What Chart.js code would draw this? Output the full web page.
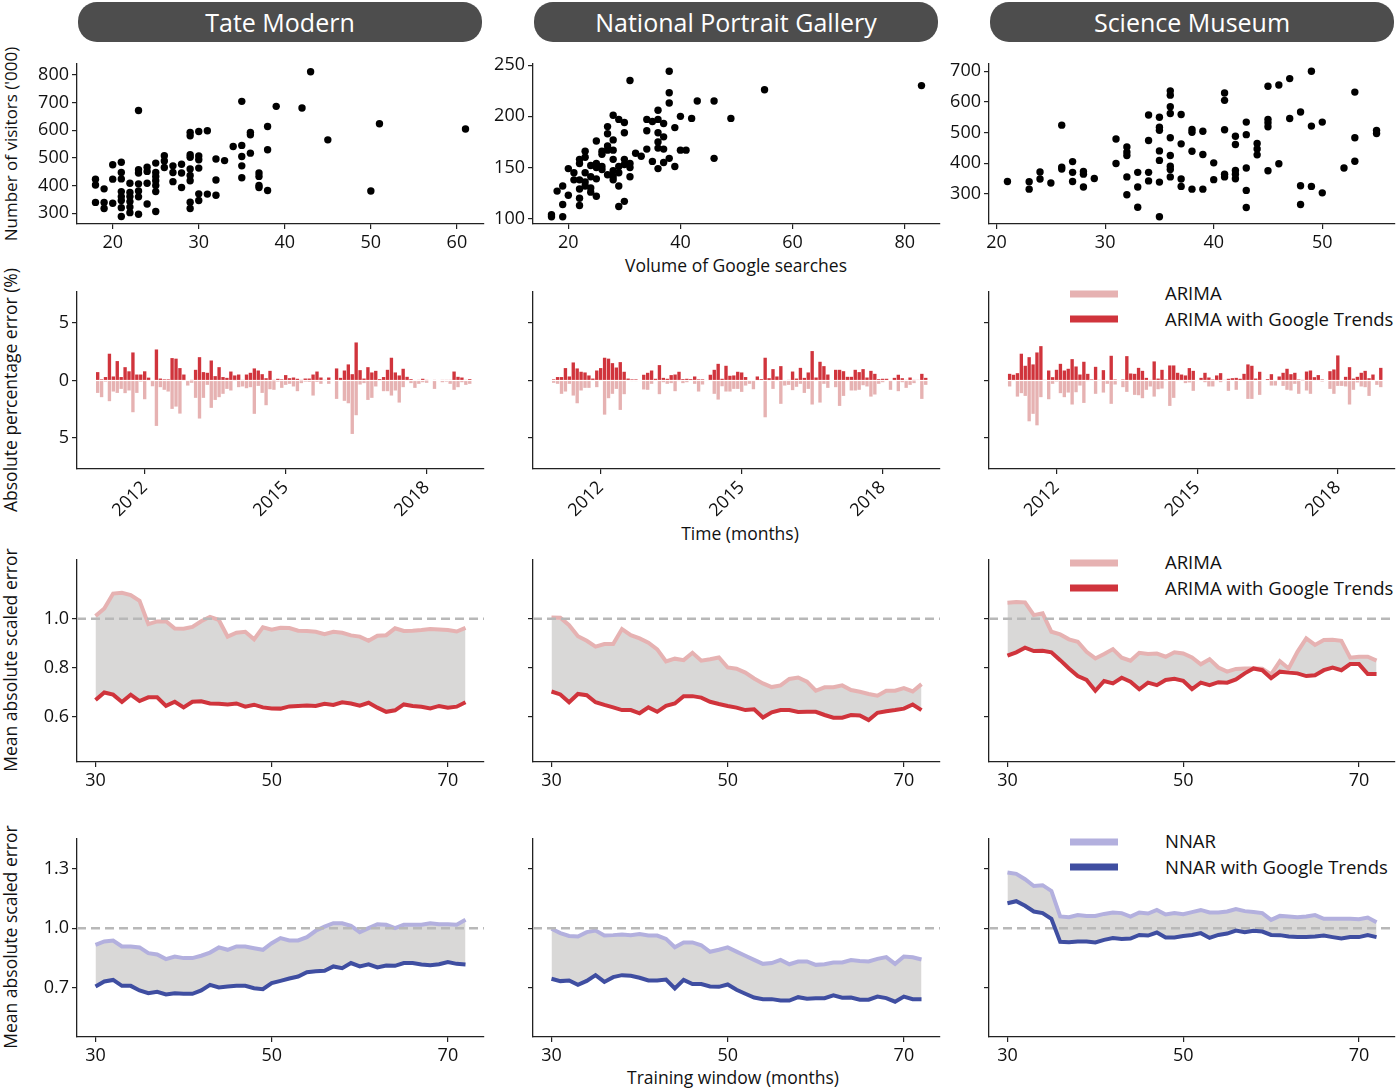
<!DOCTYPE html>
<html lang="en">
<head>
<meta charset="UTF-8">
<title>Museum visitors and Google searches</title>
<script src="https://cdn.jsdelivr.net/npm/chart.js"></script>
<style>
    body { margin: 0; background: #fff; font-family: 'Open Sans', sans-serif; }
    #page { position: relative; width: 1396px; height: 1089px; overflow: hidden; }
    canvas { position: absolute; }
    .pill {
        position: absolute; top: 2px; width: 404px; height: 40px;
        border-radius: 19px; background: #4d4d4d; color: #fff;
        font-size: 25px; line-height: 40px; text-align: center;
    }
    .ylab, .xlab, .legtxt { position: absolute; white-space: nowrap; color: #111; font-size: 17.5px; }
    .ylab { transform: translate(-50%, -50%) rotate(-90deg); }
    .xlab { transform: translate(-50%, -50%); }
    .legtxt { font-size: 18.5px; transform: translateY(-50%); left: 1165px; }
    .swatch { position: absolute; left: 1070px; width: 48px; height: 7px; transform: translateY(-50%); }
</style>
</head>
<body>
<div id="page">
    <div class="pill" style="left:78px">Tate Modern</div>
    <div class="pill" style="left:534px">National Portrait Gallery</div>
    <div class="pill" style="left:990px">Science Museum</div>

    <div class="ylab" style="left:10px; top:144px; font-size:17px">Number of visitors ('000)</div>
    <div class="ylab" style="left:10px; top:390px">Absolute percentage error (%)</div>
    <div class="ylab" style="left:10px; top:660px">Mean absolute scaled error</div>
    <div class="ylab" style="left:10px; top:937px">Mean absolute scaled error</div>

    <div class="xlab" style="left:736px; top:265px">Volume of Google searches</div>
    <div class="xlab" style="left:740px; top:533px">Time (months)</div>
    <div class="xlab" style="left:733px; top:1077px">Training window (months)</div>

    <div class="swatch" style="top:294px; background:#e6b2b2"></div>
    <div class="swatch" style="top:319px; background:#d0343c"></div>
    <div class="legtxt" style="top:292px">ARIMA</div>
    <div class="legtxt" style="top:318px">ARIMA with Google Trends</div>

    <div class="swatch" style="top:563px; background:#e6b2b2"></div>
    <div class="swatch" style="top:588px; background:#d0343c"></div>
    <div class="legtxt" style="top:561px">ARIMA</div>
    <div class="legtxt" style="top:587px">ARIMA with Google Trends</div>

    <div class="swatch" style="top:842px; background:#b3b0de"></div>
    <div class="swatch" style="top:867px; background:#3f4ea1"></div>
    <div class="legtxt" style="top:840px">NNAR</div>
    <div class="legtxt" style="top:866px">NNAR with Google Trends</div>
</div>
<script>
// ---- scatter: monthly search volume vs visitors ('000) ----
const tateSearch = [18,18,18,19,19,19,20,20,20,21,21,21,21,21,21,21,21,22,22,22,22,22,22,
    23,23,23,23,23,23,23,24,24,24,24,25,25,25,25,25,25,25,26,26,26,27,27,27,28,28,28,
    29,29,29,29,29,29,29,29,29,30,30,30,30,30,30,31,31,32,32,32,33,34,35,35,35,35,35,
    36,36,36,37,37,37,37,38,38,38,39,42,43,45,50,51,61];
const tateVisitors = [423,402,339,388,339,317,475,423,336,484,447,424,378,360,346,320,288,408,375,360,342,322,302,
    671,457,445,406,380,359,296,466,451,408,333,481,447,433,417,400,378,306,508,489,465,471,447,414,477,445,393,
    592,580,511,502,460,436,417,340,317,595,507,493,463,370,346,598,369,496,420,365,490,541,704,545,505,471,428,
    592,583,517,445,433,400,393,613,529,382,686,680,811,565,380,623,604];

const npgSearch = [17,17,18,19,19,19,20,20,21,21,22,22,22,22,22,22,23,23,23,23,23,24,24,24,24,
    25,25,25,25,25,26,26,26,26,27,27,27,27,27,28,28,28,28,28,28,28,29,29,29,29,29,
    30,30,30,30,30,31,31,31,31,32,33,34,34,34,35,35,36,36,36,36,36,36,37,37,37,37,
    38,38,38,38,39,39,40,40,41,42,43,46,46,49,55,83];
const npgVisitors = [104,102,127,132,114,102,149,123,145,138,158,154,138,129,120,113,166,160,145,136,132,152,141,130,126,
    176,154,150,139,122,166,163,151,148,190,183,171,167,143,201,177,167,158,147,141,138,197,151,145,132,112,
    194,184,158,153,117,235,154,150,141,164,161,197,186,168,195,156,206,197,184,175,169,149,193,180,168,155,
    244,223,213,159,189,151,200,167,167,198,215,215,159,198,226,230];

const smSearch = [21,23,23,24,24,25,26,26,26,27,27,27,28,28,28,29,31,31,32,32,32,32,32,33,33,33,
    34,34,34,34,35,35,35,35,35,35,35,36,36,36,36,36,36,36,36,36,37,37,37,37,38,38,38,38,
    39,39,39,40,40,41,41,41,41,41,42,42,42,42,42,43,43,43,43,43,44,44,44,45,45,45,45,45,
    46,46,47,47,48,48,48,49,49,49,50,50,52,53,53,53,55,55];
const smVisitors = [340,339,315,371,348,335,524,387,381,405,370,340,373,364,322,350,479,399,453,436,425,355,297,370,322,256,
    557,474,370,342,550,517,507,440,409,338,225,636,622,584,562,483,425,390,379,355,559,463,348,324,510,501,439,315,
    504,428,315,401,346,629,605,509,364,355,488,461,376,364,349,534,493,384,311,255,464,446,427,651,543,532,519,375,
    655,398,676,546,567,326,265,700,521,324,534,303,384,632,483,406,507,497];

// ---- absolute percentage error (%), Jan 2011 - Dec 2018 ----
const months = [];
for (let y = 2011; y <= 2018; y++) for (let m = 0; m < 12; m++) months.push(y + m / 12);

const tateApeTrends = [0.73,0.1,0.3,2.33,0.35,1.69,0.3,1.16,0.8,2.44, 0.52,0.52,0.8,0.25,0,2.7,0.17,0.1,0.1,1.95,
    1.9,1.08,0.52,0.05,0.03,0.93,2.03,0.73,0.67,1.74, 0.38,1.16,0.3,0.23,0.78,0.44,0.52,0.06,0.52,0.67,
    1.05,0.87,0.55,0.2,0.84,0.03,0.15,0.1,0.47,0.2, 0.26,0.15,0.03,0.17,0.17,0.52,0.78,0.26,0.06,0.26,
    0,1.05,0.23,0.87,1.4,0.55,3.31,0.9,0.17,1.16, 0.7,0.84,0.12,0.3,0.93,1.98,0.7,0.44,1.02,0.32,
    0.12,0,0.06,0.15,0.03,0,0.06,0,0.06,0.06, 0.06,0.78,0.32,0.26,0.06,0.12];
const tateApeArima = [1.08,1.45,0.1,1.8,0.96,1.08,0.73,1.1,0.87,2.76, 1.08,0.1,1.63,0,0.5,3.95,0.58,0.81,0.96,2.47,
    2.27,2.88,0,0.44,0.2,1.51,3.31,1.51,0.38,2.38, 1.69,1.45,1.16,0.73,0.87,0,0.58,0.52,0.67,0.58,
    2.9,0.47,1.08,2.15,0.76,0.81,0.1,0.64,0.38,0.29, 0.52,0.93,0.23,0.1,0.12,1.31,0.12,0.29,0,0.29,
    0,1.6,0,1.77,1.98,4.65,3.02,0.35,0.23,1.69, 1.51,0.52,0,0.93,0.93,1.31,0.87,1.92,0.58,0,
    0.23,0.64,0.29,0.15,0.2,0,0.73,0,0.15,0.1, 0.29,0.81,0.58,0.15,0.38,0.29];

const npgApeTrends = [0.1,0.3,0.3,1.08,0.35,1.57,1.05,0.76,0.7,0.44, 0.17,0.87,1.08,1.98,1.9,1.51,1.13,1.6,0.76,0.17,
    0.1,0.1,0,0.5,0.67,0.87,0.15,1.34,0.23,0.15, 0.47,0.52,0.76,0.12,0.15,0.12,0.35,0.1,0.1,0,
    0.5,0.93,1.45,0.15,1.28,0.41,0.44,0.76,0.7,0.3, 0,0,0.35,0.12,1.98,0.2,0.99,0.35,1.25,0,
    0.06,0.78,0.17,1.1,0.23,0.7,2.56,0.26,1.63,1.25, 0.52,0,0.93,0.93,0.81,0.32,0.32,0.93,0.73,0.99,
    0.26,0.84,0.58,0.12,0.15,0.15,0,0.23,0.5,0.2, 0.06,0.26,0.03,0.06,0.58,0.23];
const npgApeArima = [0.2,0.29,1.16,0.96,0.29,1.31,1.98,0.87,0.64,0.64, 0,0.58,0,2.97,1.54,1.16,0.73,2.56,1.19,0,
    0.06,0.06,0,0.78,0.81,0.29,0,1.19,0.15,0.29, 0.23,0.93,0.06,0.23,0.15,0,0.29,0.96,0.35,0,
    0,1.16,1.66,0.5,0.96,0.96,0.73,0.73,0.99,0.44, 0.29,0.76,0,0,3.2,0,0.73,0,2.03,0.44,
    0.38,0.84,0.55,0.29,1.08,0.73,2.09,0,1.92,0.29, 0.64,0,0.58,2.21,1.34,0.06,0.87,0.87,0.81,0.41,
    0.52,1.4,1.22,0.29,0.15,0,0.81,0,0.93,0.15, 0.64,0.38,0.23,0,1.6,0.38];

const smApeTrends = [0.58,0.5,0.64,2.33,1.28,2.03,1.4,2.44,2.99,0.06, 0.87,0.29,0.93,1.45,0.87,1.02,1.86,1.22,0.52,1.63,
    0.58,0.09,1.19,0.06,0.9,0,2.15,0.09,0,0.09, 2.12,0.61,0.58,1.1,0.84,0.23,0.06,1.66,0.17,0.93,
    0.09,1.31,1.31,0.67,0.52,0.44,1.08,0.84,0,0.23, 0.67,0.26,0.09,0.44,0.64,0.06,0.15,0.2,0.23,0.15,
    0.58,1.4,1.28,0.17,0.76,0,0.12,0.55,0,0.35, 0.67,1.02,0.55,0.67,0.09,0.03,0.78,0.87,0.29,0.47,
    0.09,0,0.81,0.96,2.18,0,0.32,1.16,0.17,0.32, 0.67,0.84,0.2,0.52,0,1.1];
const smApeArima = [0.52,0,1.4,1.1,1.34,3.55,2.9,3.9,1.45,0, 1.63,0.29,0.09,1.1,1.45,1.05,2.09,1.02,0.44,1.95,
    0.06,0,1.16,0,1.05,0.29,2.03,0.35,0,0.58, 0.99,0,1.25,1.28,1.54,0.81,0.52,1.4,0.76,0.7,
    0,2.21,1.51,0,0,0.23,0.17,0.9,0,0, 0.15,0.52,0.52,0,0.15,0,0.9,0,0.81,0,
    0,1.6,1.6,0,1.25,0,0,0.44,0.44,0, 0.47,0.81,0.87,0.29,1.16,0,0.87,1.16,0,0,
    0.09,0,0.73,1.16,0.47,0.47,0.52,2.09,0.81,0.17, 0.52,0.58,1.34,0,0.38,0.58];

// ---- mean absolute scaled error by training window ----
const windows = [30,31,32,33,34,35,36,37,38,39,40,41,42,43,44,45,46,47,48,49,50,
    51,52,53,54,55,56,57,58,59,60,61,62,63,64,65,66,67,68,69,70,71,72];

const tateMaseArima = [1.011,1.042,1.103,1.106,1.097,1.073,0.978,0.989,0.99,0.96,0.959,0.967,0.99,1.008,0.995,
    0.927,0.943,0.947,0.916,0.965,0.955,0.963,0.962,0.951,0.95,0.947,0.937,0.947,0.943,0.932,0.927,0.91,
    0.931,0.933,0.961,0.95,0.951,0.954,0.958,0.956,0.954,0.948,0.963];
const tateMaseArimaGt = [0.668,0.699,0.69,0.66,0.69,0.664,0.679,0.679,0.644,0.661,0.638,0.661,0.663,0.654,0.653,
    0.65,0.654,0.641,0.649,0.638,0.634,0.633,0.642,0.644,0.646,0.644,0.653,0.648,0.659,0.654,0.645,0.657,
    0.637,0.62,0.626,0.65,0.644,0.641,0.634,0.644,0.637,0.641,0.659];
const npgMaseArima = [1.005,1.004,0.974,0.929,0.91,0.886,0.897,0.897,0.958,0.933,0.92,0.902,0.875,0.826,0.837,
    0.831,0.861,0.829,0.835,0.842,0.801,0.796,0.78,0.756,0.736,0.721,0.728,0.754,0.76,0.743,0.706,0.72,
    0.72,0.728,0.709,0.702,0.693,0.686,0.706,0.706,0.717,0.703,0.733];
const npgMaseArimaGt = [0.703,0.691,0.659,0.693,0.688,0.659,0.648,0.638,0.627,0.627,0.614,0.638,0.62,0.644,0.654,
    0.684,0.684,0.678,0.661,0.652,0.644,0.637,0.627,0.63,0.597,0.618,0.627,0.627,0.619,0.62,0.62,0.607,
    0.596,0.596,0.607,0.605,0.586,0.616,0.622,0.627,0.633,0.65,0.627];
const smMaseArima = [1.065,1.068,1.067,1.015,1.022,0.947,0.936,0.916,0.906,0.865,0.838,0.856,0.876,0.841,0.829,
    0.861,0.856,0.858,0.845,0.863,0.858,0.842,0.814,0.835,0.801,0.784,0.795,0.797,0.797,0.796,0.773,0.827,
    0.797,0.865,0.92,0.893,0.913,0.914,0.91,0.841,0.845,0.845,0.829];
const smMaseArimaGt = [0.849,0.863,0.882,0.868,0.869,0.863,0.831,0.797,0.766,0.75,0.706,0.746,0.736,0.759,0.743,
    0.712,0.739,0.729,0.75,0.755,0.747,0.713,0.739,0.729,0.741,0.739,0.752,0.777,0.797,0.79,0.757,0.784,
    0.78,0.777,0.766,0.769,0.79,0.801,0.79,0.815,0.815,0.774,0.774];

const tateMaseNnar = [0.916,0.933,0.938,0.908,0.908,0.903,0.874,0.867,0.844,0.857,0.849,0.849,0.861,0.877,0.903,
    0.891,0.908,0.908,0.899,0.891,0.924,0.95,0.938,0.938,0.955,0.987,1.008,1.025,1.025,1.012,0.98,1.0,
    1.02,1.017,1.0,1.017,1.017,1.017,1.025,1.02,1.02,1.017,1.042];
const tateMaseNnarGt = [0.706,0.731,0.739,0.709,0.709,0.686,0.672,0.679,0.666,0.672,0.669,0.669,0.686,0.714,0.701,
    0.706,0.709,0.709,0.697,0.692,0.723,0.734,0.746,0.756,0.778,0.783,0.785,0.807,0.798,0.824,0.807,0.818,
    0.802,0.812,0.81,0.824,0.824,0.817,0.813,0.818,0.829,0.82,0.817];
const npgMaseNnar = [0.997,0.975,0.961,0.958,0.98,0.988,0.963,0.965,0.968,0.965,0.971,0.963,0.963,0.946,0.904,
    0.928,0.928,0.914,0.881,0.891,0.903,0.882,0.861,0.84,0.82,0.824,0.84,0.818,0.832,0.832,0.815,0.818,
    0.827,0.827,0.839,0.835,0.832,0.845,0.854,0.82,0.857,0.853,0.842];
const npgMaseNnarGt = [0.745,0.733,0.736,0.714,0.734,0.763,0.729,0.753,0.763,0.76,0.75,0.736,0.736,0.741,0.696,
    0.739,0.718,0.718,0.706,0.704,0.716,0.689,0.669,0.65,0.642,0.642,0.635,0.635,0.652,0.644,0.647,0.647,
    0.661,0.649,0.65,0.639,0.639,0.655,0.647,0.629,0.655,0.642,0.642];
const smMaseNnar = [1.281,1.274,1.247,1.213,1.217,1.188,1.059,1.055,1.066,1.062,1.062,1.072,1.079,1.076,1.059,
    1.079,1.074,1.092,1.069,1.076,1.071,1.081,1.092,1.079,1.079,1.084,1.097,1.086,1.082,1.076,1.042,1.062,
    1.059,1.055,1.059,1.066,1.047,1.047,1.047,1.047,1.045,1.054,1.03];
const smMaseNnarGt = [1.126,1.136,1.113,1.084,1.076,1.047,0.931,0.929,0.933,0.933,0.928,0.941,0.95,0.946,0.948,
    0.966,0.963,0.978,0.953,0.953,0.961,0.966,0.975,0.951,0.966,0.973,0.988,0.98,0.987,0.983,0.966,0.965,
    0.958,0.956,0.956,0.958,0.963,0.955,0.948,0.955,0.955,0.965,0.955];

// ---- layout ----
const RED = '#d0343c', PINK = '#e6b2b2', BLUE = '#3f4ea1', LAVENDER = '#b3b0de';
const SHADE = '#d9d8d7', DASH = '#b8b8b8';
const COLS = [[77, 484], [533, 940], [989, 1395]];
const ROWS = [[64, 224, 40], [292, 469, 64], [560, 762, 40], [839, 1037, 40]];
const YW = 72, TP = 16, RP = 10;

Chart.defaults.font.family = "'Open Sans', sans-serif";
Chart.defaults.color = '#111';

function axis(min, max, ticks, fmt, rot) {
    return {
        type: 'linear', min: min, max: max, offset: false,
        afterBuildTicks: s => { s.ticks = ticks.map(v => ({ value: v })); },
        afterFit: s => { s.width = YW; },
        grid: { display: true, offset: false, drawOnChartArea: false, drawTicks: true,
                tickLength: 5, color: '#222', lineWidth: 1.2 },
        border: { display: true, color: '#222', width: 1.3 },
        ticks: { autoSkip: false, color: '#111', font: { size: 18 }, padding: 3,
                 maxRotation: rot || 0, minRotation: rot || 0,
                 callback: fmt || (v => String(v)) }
    };
}
const hide = () => '';

function panel(row, col, type, xAxis, yAxis, datasets) {
    const [l, r] = COLS[col];
    const [t, b, xh] = ROWS[row];
    const c = document.createElement('canvas');
    c.width = YW + (r - l) + RP;
    c.height = TP + (b - t) + xh;
    c.style.left = (l - YW) + 'px';
    c.style.top = (t - TP) + 'px';
    document.getElementById('page').appendChild(c);
    xAxis.afterFit = s => { s.height = xh; };
    new Chart(c, {
        type: type,
        data: { datasets: datasets },
        options: {
            responsive: false, animation: false, events: [],
            layout: { padding: { left: 0, right: RP, top: TP, bottom: 0 } },
            plugins: { legend: { display: false }, tooltip: { enabled: false },
                       filler: { drawTime: 'beforeDatasetsDraw' } },
            scales: { x: xAxis, y: yAxis }
        }
    });
}

function points(xs, ys) { return xs.map((x, i) => ({ x: x, y: ys[i] })); }

// row 1: scatter
function scatterSet(xs, ys) {
    return { type: 'scatter', data: points(xs, ys), backgroundColor: '#000', borderWidth: 0, pointRadius: 3.7 };
}
panel(0, 0, 'scatter', axis(15.85, 63.15, [20, 30, 40, 50, 60]),
      axis(261, 839, [300, 400, 500, 600, 700, 800]), [scatterSet(tateSearch, tateVisitors)]);
panel(0, 1, 'scatter', axis(13.7, 86.3, [20, 40, 60, 80]),
      axis(94.9, 251.1, [100, 150, 200, 250]), [scatterSet(npgSearch, npgVisitors)]);
panel(0, 2, 'scatter', axis(19.3, 56.7, [20, 30, 40, 50]),
      axis(201.25, 723.75, [300, 400, 500, 600, 700]), [scatterSet(smSearch, smVisitors)]);

// row 2: mirrored error bars (with Trends up, plain ARIMA down)
function barSets(up, down) {
    return [
        { type: 'bar', data: points(months, up), backgroundColor: RED, grouped: false,
          barPercentage: 1, categoryPercentage: 0.86 },
        { type: 'bar', data: points(months, down.map(v => -v)), backgroundColor: PINK, grouped: false,
          barPercentage: 1, categoryPercentage: 0.86 }
    ];
}
const apeFmt = v => String(Math.abs(v));
const apeSeries = [[tateApeTrends, tateApeArima], [npgApeTrends, npgApeArima], [smApeTrends, smApeArima]];
apeSeries.forEach((s, col) => {
    panel(1, col, 'bar', axis(2010.56, 2019.22, [2012, 2015, 2018], null, 45),
          axis(-7.7, 7.7, [-5, 0, 5], col === 0 ? apeFmt : hide), barSets(s[0], s[1]));
});

// rows 3-4: MASE lines with shaded gap (fill first, then light line, dashed ref, dark line on top)
function maseSets(plain, trends, light, dark) {
    return [
        { type: 'line', data: [{ x: 27.9, y: 1 }, { x: 74.1, y: 1 }], borderColor: DASH, borderWidth: 2.4,
          borderDash: [9, 5], pointRadius: 0, fill: false, order: 1 },
        { type: 'line', data: points(windows, plain), borderColor: light, borderWidth: 4, pointRadius: 0,
          tension: 0, fill: '+1', backgroundColor: SHADE, order: 2 },
        { type: 'line', data: points(windows, trends), borderColor: dark, borderWidth: 4, pointRadius: 0,
          tension: 0, fill: false, order: 0 }
    ];
}
const fmt1 = v => v.toFixed(1);
const arimaSeries = [[tateMaseArima, tateMaseArimaGt], [npgMaseArima, npgMaseArimaGt], [smMaseArima, smMaseArimaGt]];
arimaSeries.forEach((s, col) => {
    panel(2, col, 'line', axis(27.9, 74.1, [30, 50, 70]),
          axis(0.415, 1.24, [0.6, 0.8, 1.0], col === 0 ? fmt1 : hide), maseSets(s[0], s[1], PINK, RED));
});
const nnarSeries = [[tateMaseNnar, tateMaseNnarGt], [npgMaseNnar, npgMaseNnarGt], [smMaseNnar, smMaseNnarGt]];
nnarSeries.forEach((s, col) => {
    panel(3, col, 'line', axis(27.9, 74.1, [30, 50, 70]),
          axis(0.451, 1.45, [0.7, 1.0, 1.3], col === 0 ? fmt1 : hide), maseSets(s[0], s[1], LAVENDER, BLUE));
});
</script>
</body>
</html>
